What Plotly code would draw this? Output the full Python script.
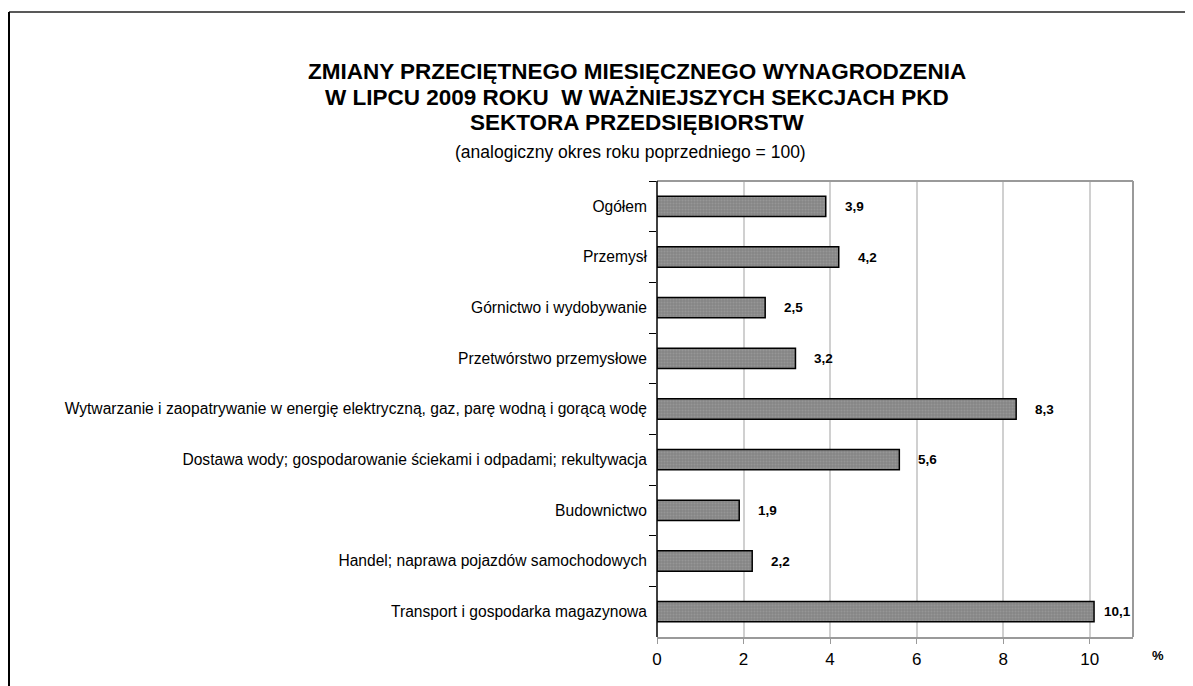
import plotly.graph_objects as go

categories = [
    "Ogółem",
    "Przemysł",
    "Górnictwo i wydobywanie",
    "Przetwórstwo przemysłowe",
    "Wytwarzanie i zaopatrywanie w energię elektryczną, gaz, parę wodną i gorącą wodę",
    "Dostawa wody; gospodarowanie ściekami i odpadami; rekultywacja",
    "Budownictwo",
    "Handel; naprawa pojazdów samochodowych",
    "Transport i gospodarka magazynowa",
]
values = [3.9, 4.2, 2.5, 3.2, 8.3, 5.6, 1.9, 2.2, 10.1]
value_labels = ["3,9", "4,2", "2,5", "3,2", "8,3", "5,6", "1,9", "2,2", "10,1"]
x_ticks = [0, 2, 4, 6, 8, 10]

W, H = 1193, 686
OFF = 8  # page body margin
L, R, T, B = 657 - OFF, 1133 - OFF, 181 - OFF, 637 - OFF
FONT = "Liberation Sans, Arial, sans-serif"

def px(x):
    return (x - OFF - L) / (R - L)

def py(y):
    return (B - (y - OFF)) / (B - T)

fig = go.Figure()
fig.add_trace(go.Bar(
    x=values, y=categories, orientation="h", width=0.4,
    marker=dict(
        color="#8a8a8a",
        line=dict(color="#000000", width=1.5),
        pattern=dict(shape=".", bgcolor="#858585", fgcolor="#a8a8a8", size=3, solidity=0.35),
    ),
    hoverinfo="skip",
))

annotations = []
for v, c, t in zip(values, categories, value_labels):
    annotations.append(dict(
        x=v, y=c, xref="x", yref="y", text=t, showarrow=False,
        xanchor="left", yanchor="middle", xshift=8 if v > 10 else 17,
        font=dict(family=FONT, size=13.5, color="#000", weight="bold"),
    ))

title_lines = [
    ("ZMIANY PRZECIĘTNEGO MIESIĘCZNEGO WYNAGRODZENIA", 71),
    ("W LIPCU 2009 ROKU  W WAŻNIEJSZYCH SEKCJACH PKD", 97),
    ("SEKTORA PRZEDSIĘBIORSTW", 123),
]
for txt, yy in title_lines:
    annotations.append(dict(
        x=px(637), y=py(yy), xref="paper", yref="paper", text=txt.replace("  ", "&nbsp; "),
        showarrow=False, xanchor="center", yanchor="middle",
        font=dict(family=FONT, size=22.5, color="#000", weight="bold"),
    ))
annotations.append(dict(
    x=px(630), y=py(152), xref="paper", yref="paper",
    text="(analogiczny okres roku poprzedniego = 100)",
    showarrow=False, xanchor="center", yanchor="middle",
    font=dict(family=FONT, size=17.5, color="#000"),
))
annotations.append(dict(
    x=px(1158), y=py(655), xref="paper", yref="paper", text="%",
    showarrow=False, xanchor="center", yanchor="middle",
    font=dict(family=FONT, size=13, color="#000", weight="bold"),
))

shapes = [
    # outer frame (top and left)
    dict(type="line", xref="paper", yref="paper", x0=px(9), x1=px(1210), y0=py(12), y1=py(12),
         line=dict(color="#222", width=1.5)),
    dict(type="line", xref="paper", yref="paper", x0=px(9), x1=px(9), y0=py(12), y1=py(720),
         line=dict(color="#000", width=2)),
    # plot frame top and right (gray)
    dict(type="line", xref="paper", yref="paper", x0=0, x1=1, y0=1, y1=1,
         line=dict(color="#9a9a9a", width=2)),
    dict(type="line", xref="paper", yref="paper", x0=1, x1=1, y0=0, y1=1,
         line=dict(color="#9a9a9a", width=2)),
    # left axis black
    dict(type="line", xref="paper", yref="paper", x0=0, x1=0, y0=0, y1=1,
         line=dict(color="#000", width=1.5)),
]

fig.update_layout(
    width=W, height=H,
    margin=dict(l=L, r=W - R, t=T, b=H - B, pad=0),
    paper_bgcolor="white", plot_bgcolor="white",
    showlegend=False,
    font=dict(family=FONT, color="#000"),
    xaxis=dict(
        range=[0, 11], tickvals=x_ticks, ticktext=[str(t) for t in x_ticks],
        showgrid=True, gridcolor="#d0d0d0", gridwidth=1.5,
        showline=True, linecolor="#9a9a9a", linewidth=2,
        ticks="outside", ticklen=5, tickcolor="#9a9a9a",
        tickfont=dict(family=FONT, size=17, color="#000"),
        ticklabelstandoff=1,
        zeroline=False, fixedrange=True,
    ),
    yaxis=dict(
        autorange="reversed", categoryorder="array", categoryarray=categories,
        showline=False, ticks="outside", tickson="boundaries", ticklen=7,
        tickcolor="#000", tickwidth=1.2,
        tickfont=dict(family=FONT, size=15.6, color="#000"),
        ticklabelstandoff=9, showgrid=False, fixedrange=True,
    ),
    annotations=annotations,
    shapes=shapes,
)

fig.write_html("out.html")
